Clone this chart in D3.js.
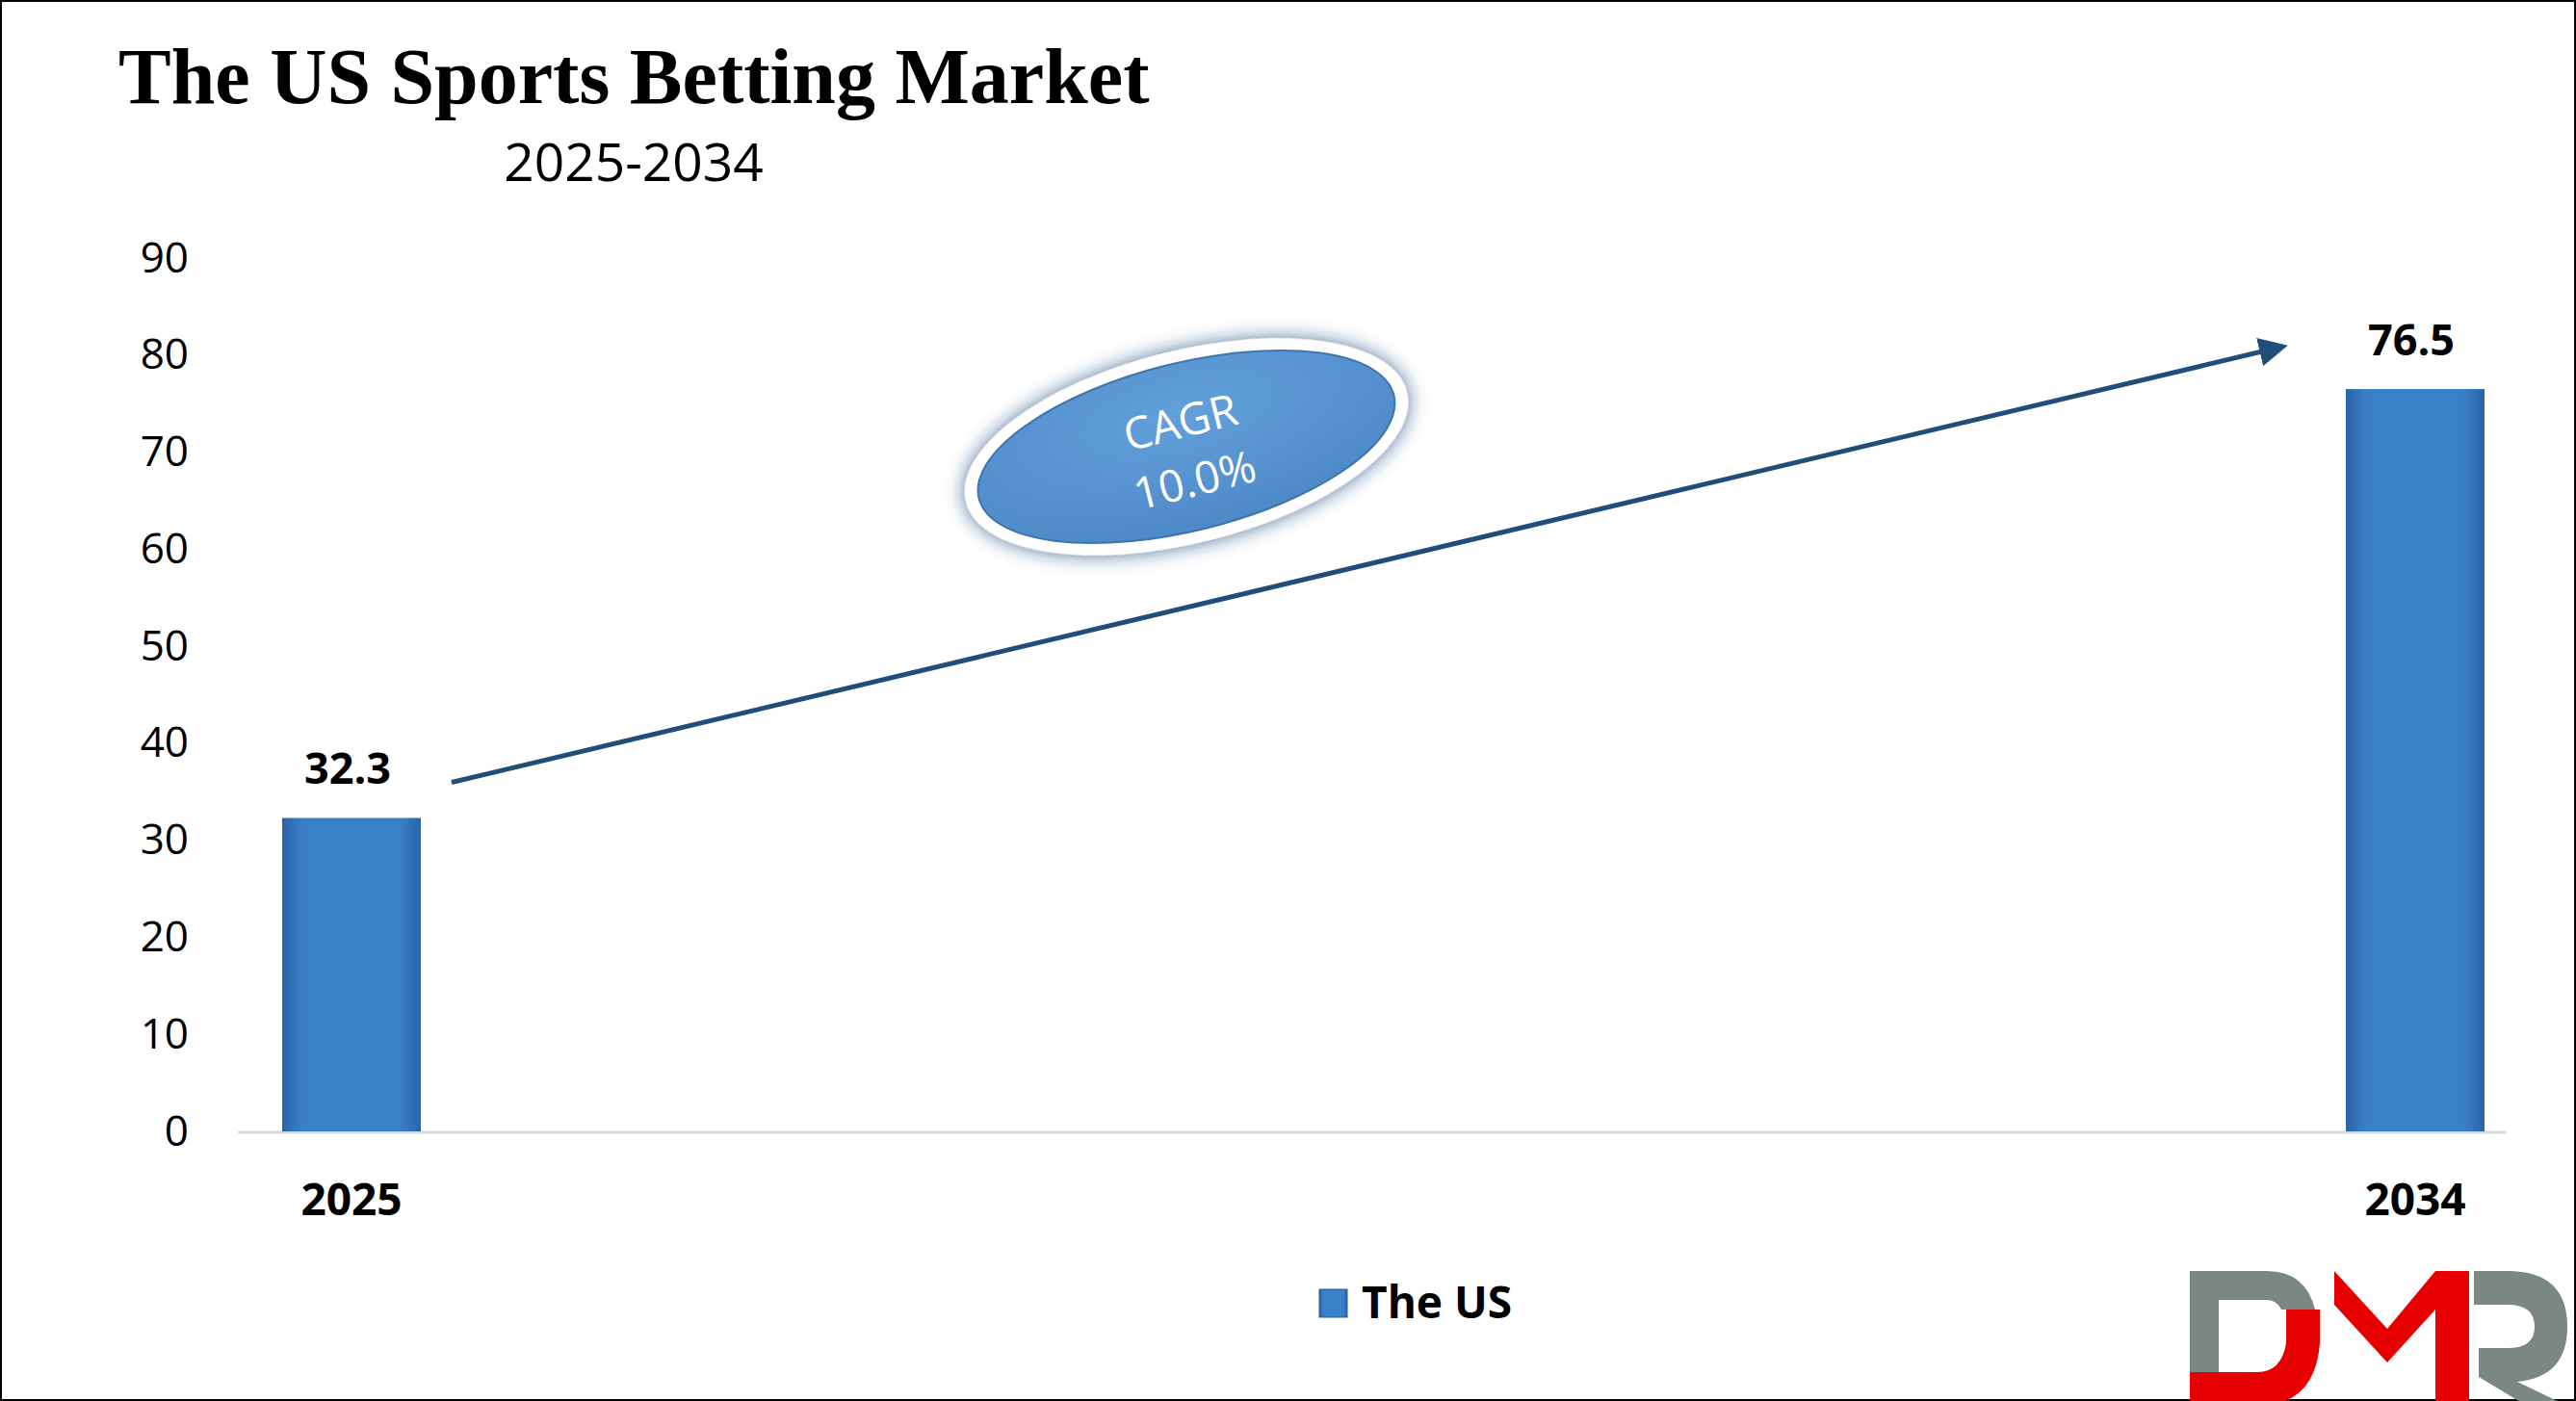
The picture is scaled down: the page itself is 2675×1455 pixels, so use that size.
<!DOCTYPE html>
<html><head><meta charset="utf-8">
<script src="https://cdn.jsdelivr.net/npm/d3@7"></script>
<style>body{margin:0;background:#fff}svg{display:block}</style>
</head><body>
<script>
const categories = ["2025","2034"];
const values = [32.3, 76.5];
const yTicks = [0,10,20,30,40,50,60,70,80,90];
const seriesName = "The US";
const cagrText = ["CAGR","10.0%"];

const W=2675,H=1455;
const svg=d3.select("body").append("svg").attr("width",W).attr("height",H);
const defs=svg.append("defs");
const bg=defs.append("linearGradient").attr("id","barg").attr("x1",0).attr("x2",1);
bg.append("stop").attr("offset",0).attr("stop-color","#2a63a6");
bg.append("stop").attr("offset",0.15).attr("stop-color","#3a80c8");
bg.append("stop").attr("offset",0.85).attr("stop-color","#3a80c8");
bg.append("stop").attr("offset",1).attr("stop-color","#2a63a6");
const eg=defs.append("radialGradient").attr("id","ellg").attr("cy",0.3).attr("r",0.8);
eg.append("stop").attr("offset",0).attr("stop-color","#62a0dc");
eg.append("stop").attr("offset",1).attr("stop-color","#4a86c4");
const sh=defs.append("filter").attr("id","glow").attr("x","-20%").attr("y","-30%").attr("width","140%").attr("height","160%");
sh.append("feGaussianBlur").attr("in","SourceAlpha").attr("stdDeviation",10).attr("result","b");
sh.append("feFlood").attr("flood-color","#1f4e86").attr("flood-opacity",0.8);
sh.append("feComposite").attr("in2","b").attr("operator","in").attr("result","s");
const mg=sh.append("feMerge");mg.append("feMergeNode").attr("in","s");mg.append("feMergeNode").attr("in","SourceGraphic");
defs.append("marker").attr("id","ah").attr("viewBox","0 0 10 10").attr("refX",8).attr("refY",5)
 .attr("markerWidth",6).attr("markerHeight",6).attr("orient","auto")
 .append("path").attr("d","M0,0L10,5L0,10z").attr("fill","#1f4e79");

svg.append("rect").attr("x",1).attr("y",1).attr("width",W-2).attr("height",H-2).attr("fill","#fff").attr("stroke","#000").attr("stroke-width",2);

const x=d3.scalePoint().domain(categories).range([365,2508]);
const y=d3.scaleLinear().domain([0,90]).range([1175,268]);
const bw=144;

svg.append("text").attr("x",123).attr("y",107).attr("font-family","Liberation Serif").attr("font-weight","bold").attr("font-size",82).text("The US Sports Betting Market");
svg.append("text").attr("x",658).attr("y",188).attr("text-anchor","middle").attr("font-family","Open Sans").attr("font-size",55).text("2025-2034");

const ax=svg.append("g").attr("transform","translate(196,0)").call(d3.axisLeft(y).tickValues(yTicks).tickSize(0).tickPadding(0));
ax.select(".domain").remove();
ax.selectAll("text").attr("font-family","Open Sans").attr("font-size",44).attr("fill","#000");

svg.append("line").attr("x1",247).attr("x2",2602).attr("y1",y(0)+1).attr("y2",y(0)+1).attr("stroke","#d9d9d9").attr("stroke-width",3);

svg.selectAll(".bar").data(values).join("rect").attr("x",(d,i)=>x(categories[i])-bw/2).attr("width",bw)
 .attr("y",d=>y(d)).attr("height",d=>y(0)-y(d)).attr("fill","url(#barg)");
svg.selectAll(".vl").data(values).join("text").attr("x",(d,i)=>x(categories[i])-4).attr("y",d=>y(d)-35)
 .attr("text-anchor","middle").attr("font-family","Open Sans").attr("font-weight","bold").attr("font-size",45).text(d=>d.toFixed(1));
svg.selectAll(".cl").data(categories).join("text").attr("x",d=>x(d)).attr("y",1262)
 .attr("text-anchor","middle").attr("font-family","Open Sans").attr("font-weight","bold").attr("font-size",46).text(d=>d);

svg.append("line").attr("x1",x(categories[0])+104).attr("y1",y(values[0])-37).attr("x2",x(categories[1])-138).attr("y2",y(values[1])-44)
 .attr("stroke","#1f4e79").attr("stroke-width",5).attr("marker-end","url(#ah)");

const eg2=svg.append("g").attr("transform","translate(1232,464) rotate(-14)");
eg2.append("ellipse").attr("rx",236).attr("ry",100).attr("fill","#fff").attr("filter","url(#glow)");
eg2.append("ellipse").attr("rx",222).attr("ry",87).attr("fill","url(#ellg)").attr("stroke","#3f74ad").attr("stroke-width",2);
eg2.selectAll("text").data(cagrText).join("text").attr("x",0).attr("y",(d,i)=>-10+i*62)
 .attr("text-anchor","middle").attr("fill","#fff").attr("font-family","Open Sans").attr("font-size",46).text(d=>d);

svg.append("rect").attr("x",1370).attr("y",1339).attr("width",29).attr("height",29).attr("fill","url(#barg)").attr("stroke","#2a5d9a");
svg.append("text").attr("x",1414).attr("y",1369).attr("font-family","Open Sans").attr("font-weight","bold").attr("font-size",46).text(seriesName);

// logo
const lg=svg.append("g").attr("transform","translate(2274,1320)");
lg.append("path").attr("fill","#7a8784").attr("d","M0,0H80Q120,0 130,40H95Q90,30 80,30H30V105H0Z");
lg.append("path").attr("fill","#e60000").attr("d","M0,105H70Q95,105 100,75V40H135V75Q130,140 70,140H0Z");
lg.append("path").attr("fill","#e60000").attr("d","M110,0H150L205,60L255,0H290V140H255V40L205,95L150,35V0Z");
lg.append("path").attr("fill","#7a8784").attr("d","M295,0H330Q392,0 392,58Q392,110 340,115L392,140H350L300,110V80H330Q358,80 358,58Q358,35 330,35H295Z");
</script>
</body></html>
